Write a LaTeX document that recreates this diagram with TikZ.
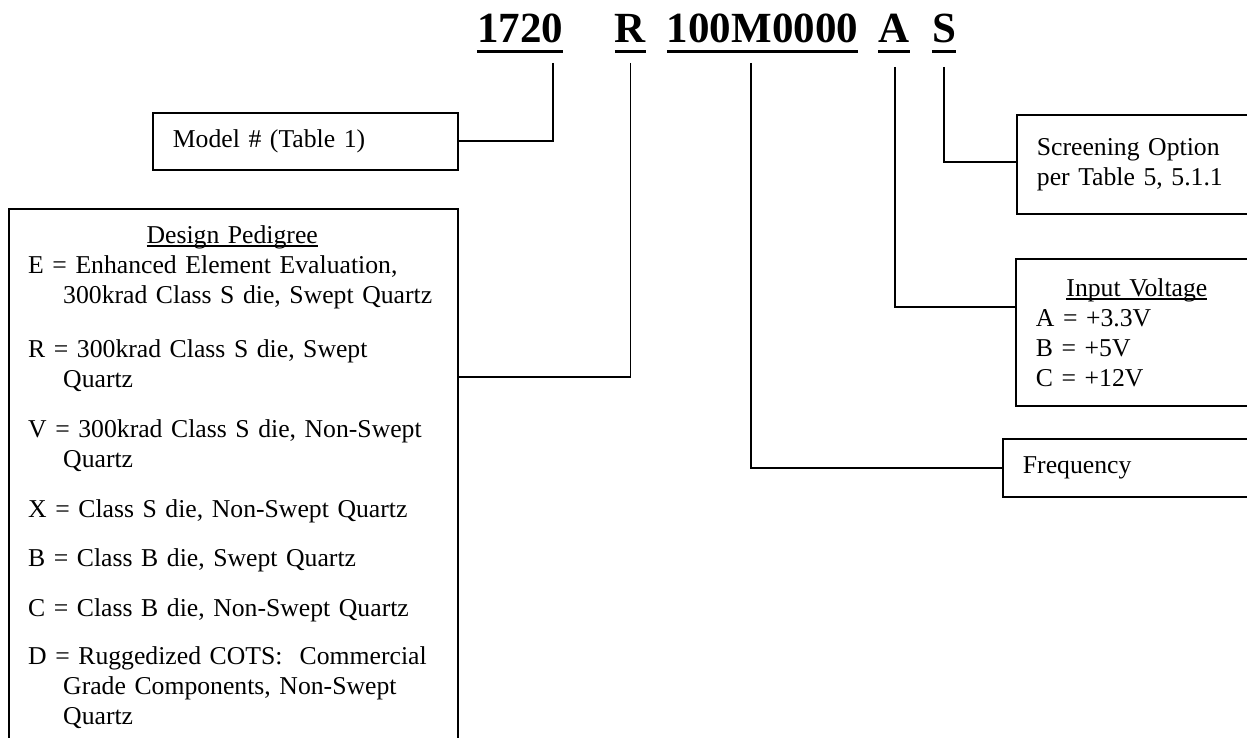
\documentclass[tikz,border=0pt]{standalone}
\usepackage{fontspec}
\setmainfont{Liberation Serif}
\newcommand\bodyfont{\fontsize{25.7}{30}\selectfont}
\newcommand\ulbar[1]{\setbox0=\hbox{#1}\rlap{\rule[-3.5pt]{\wd0}{1.5pt}}\box0}

\begin{document}
\begin{tikzpicture}[x=1pt,y=-1pt,
code/.style={font=\fontsize{43}{50}\selectfont\bfseries,inner sep=0pt,anchor=base},
codebar/.style={line width=3.5pt},
box/.style={draw,line width=1.8pt,inner xsep=20pt,inner ysep=0pt,align=left,font=\bodyfont,anchor=north west},
wire/.style={line width=1.8pt}]

\useasboundingbox (0,0) rectangle (1247,738);
\clip (0,0) rectangle (1247,738);
\fill[white] (0,0) rectangle (1247,738);

% part number
\node[code] (t1720) at (520,43) {1720};
\node[code] (tR) at (630.5,43) {R};
\node[code] (tfreq) at (762.5,43) {100M0000};
\node[code] (tA) at (894,43) {A};
\node[code] (tS) at (944,43) {S};
\foreach \n in {t1720,tR,tfreq,tA,tS}
  \draw[codebar] ([yshift=-8.5pt]\n.base west) -- ([yshift=-8.5pt]\n.base east);

% fields
\node[box,text width=265pt,minimum height=57pt] (model) at (152,112) {Model \# (Table 1)};
\node[draw,line width=1.8pt,inner sep=0pt,minimum width=449pt,minimum height=560pt,anchor=north west] (pedigree) at (8,208) {};
\node[anchor=base west,text width=428pt,align=left,inner sep=0pt,font=\bodyfont] (pedtext) at (28,243) {%
\makebox[408pt]{\ulbar{Design Pedigree}}\\
E = Enhanced Element Evaluation,\\
\hspace*{35pt}300krad Class S die, Swept Quartz\\[24pt]
R = 300krad Class S die, Swept\\
\hspace*{35pt}Quartz\\[21pt]
V = 300krad Class S die, Non-Swept\\
\hspace*{35pt}Quartz\\[19pt]
X = Class S die, Non-Swept Quartz\\[19pt]
B = Class B die, Swept Quartz\\[20pt]
C = Class B die, Non-Swept Quartz\\[18pt]
D = Ruggedized COTS:\ \ Commercial\\
\hspace*{35pt}Grade Components, Non-Swept\\
\hspace*{35pt}Quartz};
\node[box,text width=201pt,minimum height=99pt] (screen) at (1016,114) {Screening Option\\per Table 5, 5.1.1\\[-8pt]};
\node[box,text width=202pt,minimum height=147pt] (volt) at (1015,258) {%
\makebox[\linewidth]{\ulbar{Input Voltage}}\\
A = +3.3V\\
B = +5V\\
C = +12V};
\node[box,text width=215pt,minimum height=58pt] (freq) at (1002,438) {Frequency};

% leaders
\draw[wire] ([xshift=33pt,yshift=-20pt]t1720.base) |- (model.east);
\draw[wire] ([yshift=-20pt]tR.base) |- ([yshift=-169pt]pedigree.north east);
\draw[wire] ([xshift=-11.5pt,yshift=-20pt]tfreq.base) |- (freq.west);
\draw[wire] ([xshift=1pt,yshift=-24pt]tA.base) |- ([yshift=25.5pt]volt.west);
\draw[wire] ([yshift=-24pt]tS.base) |- ([yshift=2.5pt]screen.west);

\end{tikzpicture}
\end{document}
